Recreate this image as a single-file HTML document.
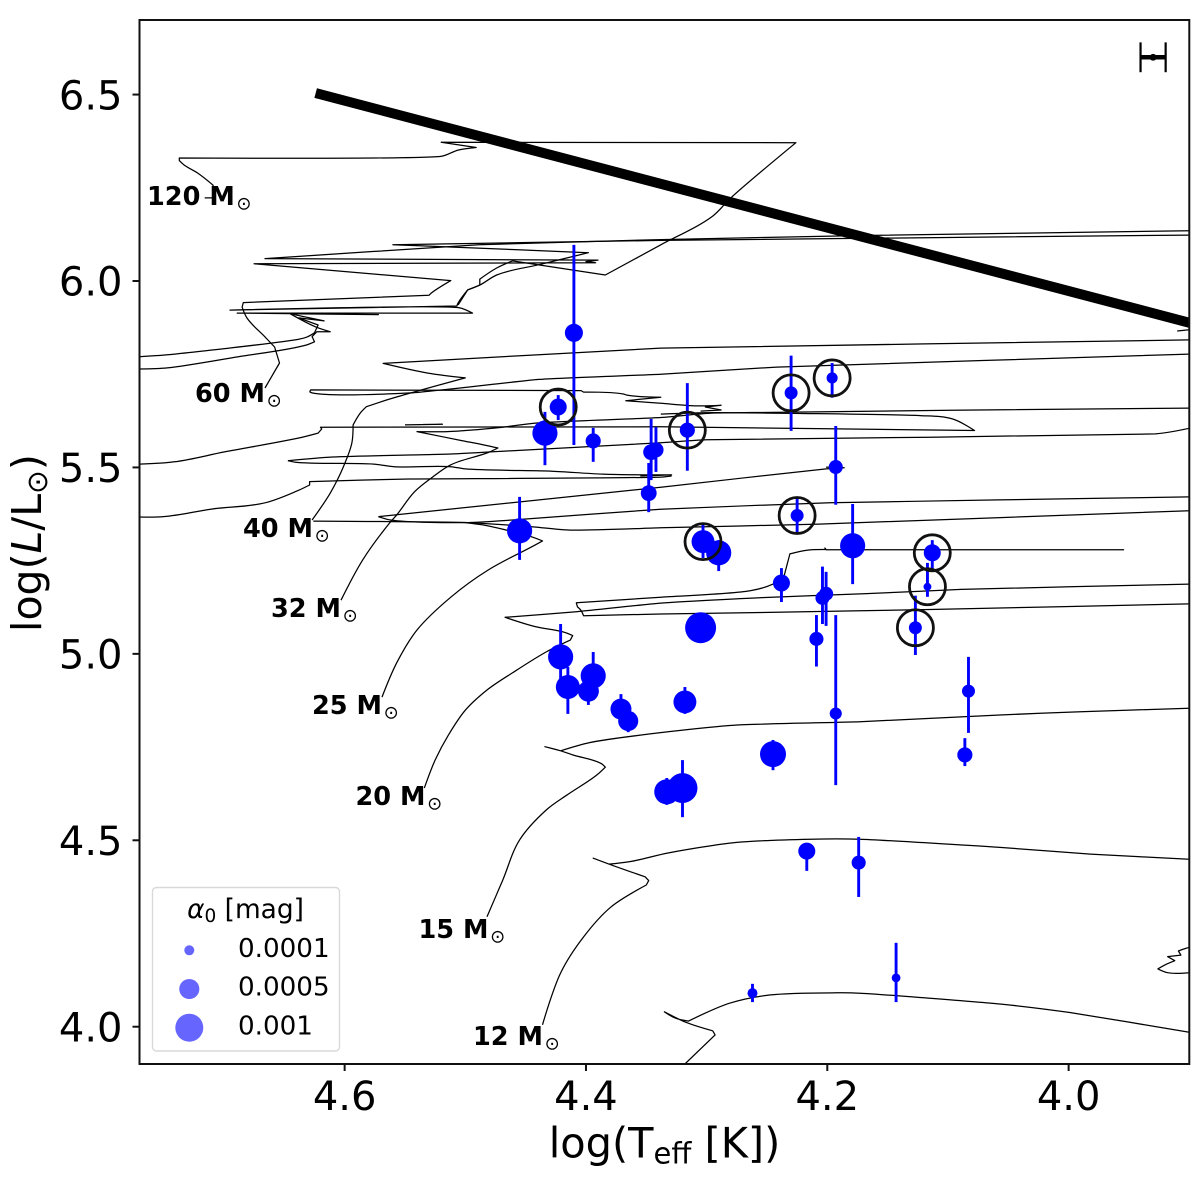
<!DOCTYPE html>
<html lang="en">
<head>
<meta charset="utf-8">
<title>Hertzsprung-Russell diagram</title>
<style>
html,body{margin:0;padding:0;background:#fff;width:1200px;height:1181px;overflow:hidden}
svg{display:block;font-family:"DejaVu Sans","Liberation Sans",sans-serif}
</style>
</head>
<body>
<svg id="chart" xmlns="http://www.w3.org/2000/svg" width="1200" height="1181" viewBox="0 0 1200 1181">
  <defs><clipPath id="plot-clip"><rect x="139.5" y="20" width="1049.8" height="1044"/></clipPath></defs>
  <rect width="1200" height="1181" fill="#fff"/>
  <g id="tracks" clip-path="url(#plot-clip)" fill="none" stroke="#000" stroke-width="1.25" stroke-linejoin="round"></g>
  <g id="limit" clip-path="url(#plot-clip)"></g>
  <g id="errors" stroke="#0000ff" stroke-width="2.9"></g>
  <g id="points" fill="#0000ff"></g>
  <g id="rings" fill="none" stroke="#111" stroke-width="2.8"></g>
  <g id="typical" stroke="#000"></g>

  <g font-weight="bold" font-size="25.6" fill="#000">
    <text x="147" y="205">120 M<tspan font-weight="normal" font-size="18" dx="1.6" dy="4.4">⊙</tspan></text>
    <text x="195" y="402">60 M<tspan font-weight="normal" font-size="18" dx="1.6" dy="4.4">⊙</tspan></text>
    <text x="243" y="537">40 M<tspan font-weight="normal" font-size="18" dx="1.6" dy="4.4">⊙</tspan></text>
    <text x="271" y="617">32 M<tspan font-weight="normal" font-size="18" dx="1.6" dy="4.4">⊙</tspan></text>
    <text x="312" y="714">25 M<tspan font-weight="normal" font-size="18" dx="1.6" dy="4.4">⊙</tspan></text>
    <text x="355.5" y="805">20 M<tspan font-weight="normal" font-size="18" dx="1.6" dy="4.4">⊙</tspan></text>
    <text x="418.5" y="938">15 M<tspan font-weight="normal" font-size="18" dx="1.6" dy="4.4">⊙</tspan></text>
    <text x="473" y="1045">12 M<tspan font-weight="normal" font-size="18" dx="1.6" dy="4.4">⊙</tspan></text>
  </g>

  <g id="legend">
    <rect x="152.5" y="887.5" width="187" height="163.5" rx="4" fill="#fff" fill-opacity=".8" stroke="#d9d9d9" stroke-width="1.4"/>
    <text x="245.5" y="918" font-size="26.4" text-anchor="middle"><tspan font-style="italic">α</tspan><tspan font-size="18.5" dy="4">0</tspan><tspan dy="-4"> [mag]</tspan></text>
  </g>

  <rect x="139.5" y="20" width="1049.8" height="1044" fill="none" stroke="#111" stroke-width="2"/>
  <g id="axes"></g>

  <text x="664.5" y="1157.5" font-size="41.5" text-anchor="middle">log(T<tspan font-size="29" dy="6">eff</tspan><tspan dy="-6"> [K])</tspan></text>
  <text transform="translate(41,543) rotate(-90)" font-size="41" text-anchor="middle">log(<tspan font-style="italic">L</tspan>/L<tspan font-size="28.5" dy="6">⊙</tspan><tspan dy="-6">)</tspan></text>
</svg>

<script>
// Axis limits
const xLimits = [4.77, 3.90];
const yLimits = [3.90, 6.70];
const xTicks = [4.6, 4.4, 4.2, 4.0];
const yTicks = [4.0, 4.5, 5.0, 5.5, 6.0, 6.5];

// Observed stars: log Teff, log L, upper and lower error limits, alpha0, ringed flag
const starTeff = [4.410,4.423,4.434,4.394,4.346,4.342,4.348,4.455,4.421,4.415,4.394,4.398,4.371,4.365,4.318,4.245,4.333,4.320,4.217,4.174,4.262,4.143,4.193,4.316,4.230,4.196,4.193,4.225,4.303,4.290,4.179,4.113,4.238,4.201,4.204,4.117,4.305,4.209,4.127,4.083,4.086];
const starLum = [5.861,5.662,5.592,5.571,5.541,5.547,5.431,5.330,4.992,4.911,4.941,4.900,4.852,4.820,4.871,4.731,4.630,4.640,4.471,4.440,4.090,4.131,4.840,5.600,5.700,5.740,5.501,5.371,5.301,5.271,5.290,5.271,5.190,5.161,5.150,5.180,5.070,5.040,5.070,4.900,4.729];
const starLumHigh = [6.097,5.694,5.649,5.606,5.630,5.608,5.512,5.421,5.080,4.965,5.005,4.930,4.892,4.844,4.911,4.769,4.667,4.715,4.487,4.509,4.115,4.225,5.104,5.726,5.800,5.780,5.611,5.422,5.351,5.305,5.402,5.305,5.230,5.220,5.234,5.244,5.080,5.104,5.156,4.992,4.774];
const starLumLow = [5.560,5.627,5.506,5.515,5.466,5.488,5.380,5.252,4.903,4.839,4.876,4.863,4.809,4.790,4.839,4.688,4.595,4.562,4.418,4.348,4.066,4.066,4.648,5.491,5.598,5.687,5.400,5.324,5.257,5.222,5.187,5.220,5.139,5.075,5.080,5.153,5.060,4.966,4.997,4.788,4.699];
const starAlpha = [.0004,.00035,.0008,.00027,.0003,.00027,.0003,.0008,.0008,.00073,.0008,.00055,.00055,.0005,.00066,.00086,.0008,.00115,.00035,.00023,.0001,.00007,.00016,.00027,.00019,.00013,.00023,.00019,.00066,.0008,.0008,.00035,.00035,.00023,.00023,.00005,.00123,.00023,.00019,.00019,.00027];
const starRinged = [0,1,0,0,0,0,0,0,0,0,0,0,0,0,0,0,0,0,0,0,0,0,0,1,1,1,0,1,1,0,0,1,0,0,0,1,0,0,1,0,0];

// Legend values
const legendAlpha = [0.0001, 0.0005, 0.001];
const legendLabels = ['0.0001', '0.0005', '0.001'];

// Evolution tracks as [log Teff, log L]
const track120 = [[4.716,6.223],[4.708,6.223],[4.709,6.257],[4.722,6.290],[4.733,6.311],[4.737,6.323],[4.737,6.330],[4.519,6.335],[4.506,6.351],[4.491,6.358],[4.520,6.372],[4.226,6.371],[4.280,6.223],[4.295,6.174],[4.338,6.097],[4.384,6.016],[4.461,6.054],[4.474,6.035],[4.488,6.005],[4.488,5.989],[4.498,5.976],[4.506,5.941],[4.507,5.933],[4.695,5.922],[4.505,5.928],[4.494,5.914],[4.689,5.914],[4.572,5.910],[4.645,5.912],[4.617,5.893],[4.638,5.901],[4.622,5.882],[4.625,5.861],[4.631,5.850],[4.638,5.844],[4.747,5.802],[4.770,5.797]];
const track60 = [[4.666,5.713],[4.654,5.780],[4.658,5.823],[4.666,5.850],[4.681,5.901],[4.685,5.930],[4.684,5.942],[4.530,5.962],[4.528,5.968],[4.512,6.001],[4.675,6.046],[4.392,6.049],[4.400,6.052],[4.390,6.056],[4.666,6.060],[4.489,6.097],[4.338,6.111],[4.170,6.122],[3.900,6.135]];
const track60Upper = [[3.900,6.123],[4.338,6.109],[4.560,6.097],[4.518,6.092],[4.398,6.076],[4.437,6.045],[4.474,6.016],[4.488,5.989],[4.498,5.976],[4.506,5.936]];
const track60Return = [[4.645,5.912],[4.624,5.877],[4.612,5.864],[4.623,5.864],[4.627,5.851],[4.625,5.837],[4.632,5.828],[4.688,5.797],[4.747,5.767],[4.770,5.764]];
const track40 = [[4.627,5.359],[4.612,5.431],[4.601,5.502],[4.594,5.566],[4.593,5.614],[4.587,5.646],[4.582,5.663],[4.565,5.681],[4.545,5.700],[4.500,5.740],[4.531,5.753],[4.568,5.779],[4.338,5.820],[3.900,5.842]];
const track40Lower = [[4.629,5.703],[4.627,5.700],[4.545,5.700],[4.439,5.736],[4.338,5.750],[4.242,5.769],[3.900,5.804]];
const track40Loop = [[4.629,5.703],[4.628,5.708],[4.404,5.706],[4.402,5.702],[4.369,5.697],[4.366,5.694],[4.338,5.688],[4.367,5.679],[4.338,5.672],[4.308,5.665],[4.288,5.667],[4.301,5.662],[4.288,5.654],[4.305,5.651]];
const trackExitA = [[4.770,5.509],[4.741,5.515],[4.699,5.542],[4.638,5.579],[4.622,5.592],[4.619,5.603],[4.620,5.608],[4.338,5.609],[4.078,5.599],[4.096,5.630],[4.123,5.639],[4.294,5.647],[4.338,5.643]];
const trackExitAStroke = [[4.550,5.614],[4.519,5.616],[4.535,5.615]];
const track32 = [[4.603,5.144],[4.585,5.252],[4.562,5.354],[4.557,5.372],[4.542,5.435],[4.528,5.472],[4.512,5.507],[4.481,5.540],[4.473,5.552],[4.484,5.560],[4.503,5.572],[4.540,5.596],[4.515,5.596],[4.469,5.608],[4.442,5.619],[4.338,5.634],[4.294,5.646],[3.900,5.659]];
const trackExitB = [[4.770,5.367],[4.750,5.368],[4.711,5.388],[4.666,5.405],[4.638,5.439],[4.629,5.453],[4.629,5.462],[4.547,5.469],[4.338,5.474],[4.329,5.477]];
const trackBandUpper = [[4.647,5.518],[4.610,5.528],[4.512,5.536],[4.461,5.545],[4.338,5.566],[4.300,5.574],[3.928,5.590],[3.900,5.605]];
const trackBandLower = [[4.647,5.518],[4.641,5.514],[4.576,5.509],[4.559,5.502],[4.512,5.502],[4.500,5.496],[4.428,5.490],[4.386,5.482],[4.329,5.480],[4.355,5.477]];
const trackMidA = [[4.626,5.356],[4.498,5.352],[4.445,5.341],[4.413,5.332],[4.338,5.338],[4.207,5.348],[3.900,5.384]];
const trackMidB = [[4.572,5.368],[4.338,5.447],[4.201,5.496],[4.186,5.499],[4.201,5.501]];
const trackMidC = [[4.572,5.368],[4.562,5.359],[4.498,5.352],[4.461,5.359],[4.338,5.388],[4.198,5.405],[4.058,5.413],[3.900,5.421]];
const track25 = [[4.569,4.884],[4.557,4.975],[4.540,5.064],[4.512,5.152],[4.481,5.225],[4.445,5.287],[4.436,5.303],[4.445,5.314],[4.461,5.328],[4.486,5.346],[4.500,5.352]];
const track20 = [[4.534,4.640],[4.525,4.715],[4.514,4.782],[4.500,4.849],[4.482,4.903],[4.461,4.949],[4.433,5.005],[4.413,5.037],[4.411,5.049],[4.419,5.059],[4.442,5.073],[4.467,5.098],[4.408,5.113],[4.338,5.136],[4.254,5.151],[4.170,5.161],[4.089,5.173],[3.900,5.187]];
const track20Blue = [[3.900,5.134],[4.115,5.119],[4.254,5.111],[4.338,5.107],[4.402,5.102],[4.404,5.116],[4.407,5.126],[4.408,5.137],[4.338,5.152],[4.264,5.169],[4.245,5.187],[4.236,5.207],[4.231,5.268],[4.217,5.278],[4.201,5.280],[4.202,5.284],[4.201,5.279],[3.954,5.279]];
const track15 = [[4.482,4.295],[4.469,4.393],[4.455,4.501],[4.433,4.581],[4.416,4.621],[4.391,4.675],[4.384,4.696],[4.387,4.705],[4.411,4.729],[4.421,4.740],[4.434,4.751],[4.421,4.740],[4.397,4.762],[4.332,4.791],[4.276,4.809],[4.173,4.818],[4.057,4.836],[3.990,4.845],[3.900,4.854]];
const track12 = [[4.436,4.005],[4.421,4.144],[4.402,4.241],[4.379,4.322],[4.350,4.380],[4.348,4.392],[4.351,4.402],[4.379,4.434],[4.394,4.452],[4.381,4.436],[4.363,4.443],[4.332,4.466],[4.276,4.494],[4.214,4.503],[4.173,4.503],[4.057,4.481],[3.982,4.463],[3.900,4.449]];
const trackLow = [[4.318,3.900],[4.293,3.978],[4.295,3.989],[4.318,4.013],[4.335,4.040],[4.326,4.023],[4.315,4.015],[4.281,4.063],[4.248,4.085],[4.192,4.091],[4.173,4.090],[4.057,4.061],[3.999,4.038],[3.900,3.985]];
const trackEdgeLoop = [[3.900,4.213],[3.903,4.210],[3.909,4.203],[3.907,4.192],[3.918,4.188],[3.912,4.177],[3.920,4.166],[3.926,4.155],[3.918,4.145],[3.900,4.145]];
const trackEdgeTip = [[3.910,5.866],[3.900,5.869],[3.900,5.861]];
const allTracks = [track120,track60,track60Upper,track60Return,track40,track40Lower,track40Loop,trackExitA,trackExitAStroke,track32,trackExitB,trackBandUpper,trackBandLower,trackMidA,trackMidB,trackMidC,track25,track20,track20Blue,track15,track12,trackLow,trackEdgeLoop,trackEdgeTip];

// Luminosity limit line
const limitTeff = [4.624, 3.900];
const limitLum = [6.504, 5.888];

// Representative error bar
const typicalTeff = 3.930;
const typicalLum = 6.600;
const typicalTeffErr = 0.0104;
const typicalLumErr = 0.040;

const NS = 'http://www.w3.org/2000/svg';
const plotLeft = 139.5, plotRight = 1189.3, plotTop = 20, plotBottom = 1064;
function xScale(t){ return plotLeft + (xLimits[0] - t) / (xLimits[0] - xLimits[1]) * (plotRight - plotLeft); }
function yScale(l){ return plotBottom - (l - yLimits[0]) / (yLimits[1] - yLimits[0]) * (plotBottom - plotTop); }
function alphaRadius(a){ return Math.sqrt(6 + 190000 * a); }
function make(tag, parent, attrs){
  const el = document.createElementNS(NS, tag);
  for (const k in attrs) el.setAttribute(k, attrs[k]);
  parent.appendChild(el);
  return el;
}
// Smooth a track through its points, keeping sharp turns as real corners.
function trackPath(track){
  const pts = track.map(function(p){ return [xScale(p[0]), yScale(p[1])]; });
  const tangents = pts.map(function(p, i){
    if (i === 0 || i === pts.length - 1) return null;
    const a = [p[0] - pts[i-1][0], p[1] - pts[i-1][1]];
    const b = [pts[i+1][0] - p[0], pts[i+1][1] - p[1]];
    const la = Math.hypot(a[0], a[1]), lb = Math.hypot(b[0], b[1]);
    if (!la || !lb) return null;
    if ((a[0]*b[0] + a[1]*b[1]) / (la*lb) < 0.9) return null;
    const t = [a[0]/la + b[0]/lb, a[1]/la + b[1]/lb];
    const lt = Math.hypot(t[0], t[1]);
    return [t[0]/lt, t[1]/lt];
  });
  let d = 'M' + pts[0][0].toFixed(1) + ' ' + pts[0][1].toFixed(1);
  for (let i = 1; i < pts.length; i++) {
    const p0 = pts[i-1], p1 = pts[i];
    const len = Math.min(Math.hypot(p1[0]-p0[0], p1[1]-p0[1]) / 3, 18);
    const t0 = tangents[i-1], t1 = tangents[i];
    const c1 = t0 ? [p0[0]+t0[0]*len, p0[1]+t0[1]*len] : p0;
    const c2 = t1 ? [p1[0]-t1[0]*len, p1[1]-t1[1]*len] : p1;
    d += 'C' + c1[0].toFixed(1) + ' ' + c1[1].toFixed(1) + ' ' + c2[0].toFixed(1) + ' ' + c2[1].toFixed(1) + ' ' + p1[0].toFixed(1) + ' ' + p1[1].toFixed(1);
  }
  return d;
}

const tracksGroup = document.getElementById('tracks');
allTracks.forEach(function(track){
  const el = make('path', tracksGroup, {d: trackPath(track)});
  
  
});

const limitEl = make('line', document.getElementById('limit'), {
  x1: xScale(limitTeff[0]), y1: yScale(limitLum[0]), x2: xScale(limitTeff[1]) + 5, y2: yScale(limitLum[1]) + (5 * (yScale(limitLum[1]) - yScale(limitLum[0])) / (xScale(limitTeff[1]) - xScale(limitTeff[0]))),
  stroke: '#000', 'stroke-width': 10
});



const errorsGroup = document.getElementById('errors');
const pointsGroup = document.getElementById('points');
const ringsGroup = document.getElementById('rings');
starTeff.forEach(function(t, i){
  const x = xScale(t);
  const bar = make('line', errorsGroup, {x1: x, x2: x, y1: yScale(starLumHigh[i]), y2: yScale(starLumLow[i])});
  
  
  const dot = make('circle', pointsGroup, {cx: x, cy: yScale(starLum[i]), r: alphaRadius(starAlpha[i])});
  
  
  if (starRinged[i]) {
    const ring = make('circle', ringsGroup, {cx: x, cy: yScale(starLum[i]), r: 18});
    
    
  }
});

const typicalGroup = document.getElementById('typical');
const tx = xScale(typicalTeff), ty = yScale(typicalLum);
const tx0 = xScale(typicalTeff + typicalTeffErr), tx1 = xScale(typicalTeff - typicalTeffErr);
const ty0 = yScale(typicalLum + typicalLumErr), ty1 = yScale(typicalLum - typicalLumErr);
const typH = make('line', typicalGroup, {x1: tx0, x2: tx1, y1: ty, y2: ty, 'stroke-width': 4.5});


const capL = make('line', typicalGroup, {x1: tx0, x2: tx0, y1: ty0, y2: ty1, 'stroke-width': 2.2});


const capR = make('line', typicalGroup, {x1: tx1, x2: tx1, y1: ty0, y2: ty1, 'stroke-width': 2.2});


const typDot = make('circle', typicalGroup, {cx: tx, cy: ty, r: 3.4, fill: '#000', stroke: 'none'});



const legendGroup = document.getElementById('legend');
const legendRowY = [950.3, 989, 1027.7];
legendAlpha.forEach(function(a, i){
  const m = make('circle', legendGroup, {cx: 189.3, cy: legendRowY[i], r: alphaRadius(a), fill: '#0000ff', 'fill-opacity': .6});
  
  
  const t = make('text', legendGroup, {x: 238, y: legendRowY[i] + 6.7, 'font-size': 26.2, fill: '#000'});
  t.textContent = legendLabels[i];
  
  
});

const axesGroup = document.getElementById('axes');
xTicks.forEach(function(v){
  const x = xScale(v);
  const tick = make('line', axesGroup, {x1: x, x2: x, y1: plotBottom, y2: plotBottom + 7, stroke: '#111', 'stroke-width': 2});
  
  
  const t = make('text', axesGroup, {x: x, y: 1110, 'font-size': 40, 'text-anchor': 'middle', fill: '#000'});
  t.textContent = v.toFixed(1);
  
  
});
yTicks.forEach(function(v){
  const y = yScale(v);
  const tick = make('line', axesGroup, {x1: plotLeft - 7, x2: plotLeft, y1: y, y2: y, stroke: '#111', 'stroke-width': 2});
  
  
  const t = make('text', axesGroup, {x: 122.5, y: y + 14.7, 'font-size': 40, 'text-anchor': 'end', fill: '#000'});
  t.textContent = v.toFixed(1);
  
  
});
</script>
</body>
</html>
